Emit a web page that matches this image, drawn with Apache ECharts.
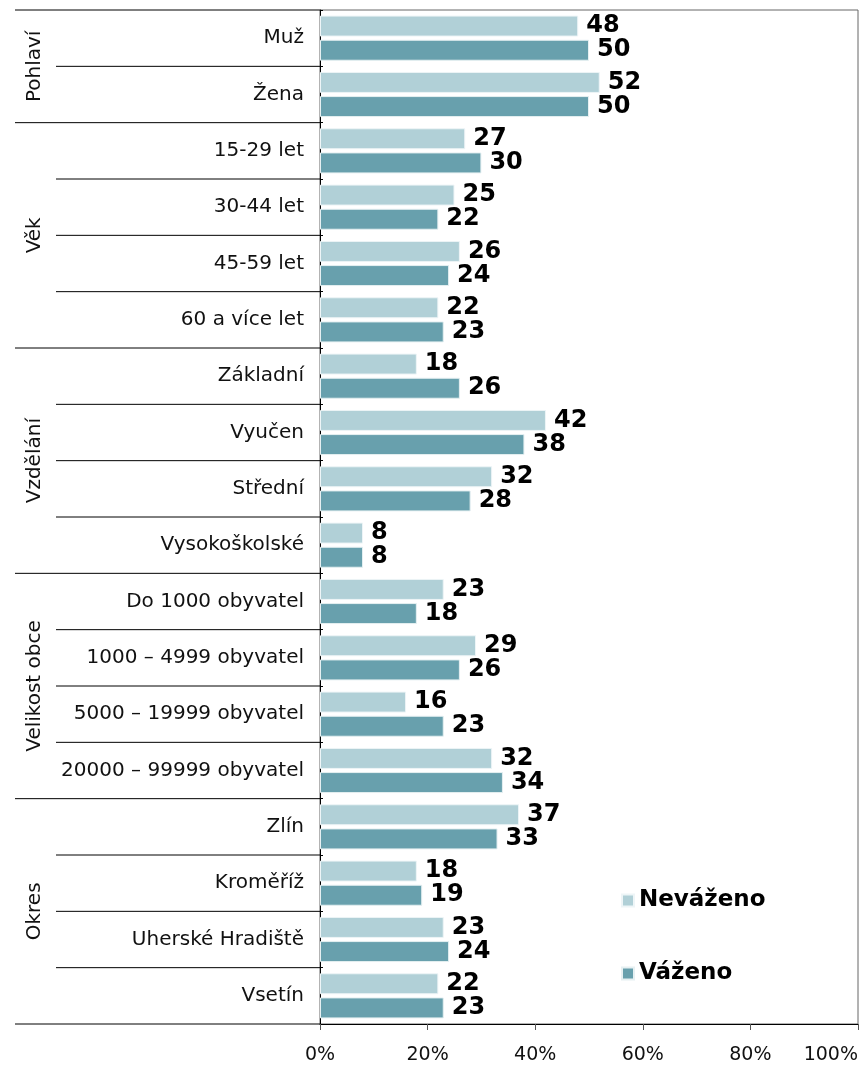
<!DOCTYPE html>
<html>
<head>
<meta charset="utf-8">
<script src="https://cdn.jsdelivr.net/npm/echarts@6/dist/echarts.min.js"></script>
<style>html,body{margin:0;padding:0;background:#fff;}#c{width:864px;height:1066px;}</style>
</head>
<body>
<div id="c"></div>
<script>
const categories = ['Muž','Žena','15-29 let','30-44 let','45-59 let','60 a více let','Základní','Vyučen','Střední','Vysokoškolské','Do 1000 obyvatel','1000 – 4999 obyvatel','5000 – 19999 obyvatel','20000 – 99999 obyvatel','Zlín','Kroměříž','Uherské Hradiště','Vsetín'];
const nevazeno = [48,52,27,25,26,22,18,42,32,8,23,29,16,32,37,18,23,22];
const vazeno = [50,50,30,22,24,23,26,38,28,8,18,26,23,34,33,19,24,23];
const groupNames = ['Pohlaví','Věk','Vzdělání','Velikost obce','Okres'];
const groupSizes = [2,4,4,4,4];
const xTicks = [0,20,40,60,80,100];

const FONT = 'DejaVu Sans, Verdana, sans-serif';
const chart = echarts.init(document.getElementById('c'));
const labelStyle = {show:true, position:'right', distance:8, color:'#000', fontFamily:FONT, fontWeight:'bold', fontSize:24};
chart.setOption({
  animation:false,
  grid:{left:320, right:6, top:10, bottom:42, show:true, borderColor:'#666', borderWidth:1, outerBoundsMode:'none', containLabel:false},
  legend:{
    orient:'vertical', left:616, top:884, itemGap:50, itemWidth:12, itemHeight:12, icon:'rect',
    textStyle:{fontFamily:FONT, fontWeight:'bold', fontSize:23, color:'#000'},
    data:['Neváženo','Váženo']
  },
  xAxis:{
    type:'value', min:xTicks[0], max:xTicks[xTicks.length-1], interval:20,
    axisLine:{show:true, lineStyle:{color:'#000'}},
    axisTick:{show:true, length:6, lineStyle:{color:'#555'}},
    splitLine:{show:false},
    axisLabel:{formatter:'{value}%', color:'#111', fontFamily:FONT, fontSize:19, margin:22, alignMaxLabel:'right'}
  },
  yAxis:{
    type:'category', inverse:true, data:categories,
    axisLine:{show:true, lineStyle:{color:'#000'}},
    axisTick:{show:true, inside:true, length:3, interval:0, lineStyle:{color:'#000'}},
    axisLabel:{color:'#111', fontFamily:FONT, fontSize:20, margin:16, interval:0}
  },
  series:[
    {name:'Neváženo', type:'bar', data:nevazeno, barWidth:21, barGap:'15%',
     itemStyle:{color:'#b1d0d7', borderColor:'#eef5f7', borderWidth:1}, label:labelStyle},
    {name:'Váženo', type:'bar', data:vazeno, barWidth:21, barGap:'15%',
     itemStyle:{color:'#68a0ad', borderColor:'#e6f0f2', borderWidth:1}, label:labelStyle}
  ]
});

function addGroups(){
  const c0 = chart.convertToPixel({yAxisIndex:0}, 0);
  const c1 = chart.convertToPixel({yAxisIndex:0}, 1);
  const band = c1 - c0;
  const x0 = chart.convertToPixel({xAxisIndex:0}, 0);
  const graphics = [];
  let idx = 0;
  const bound = i => c0 + (i - 0.5) * band;
  graphics.push({type:'line', shape:{x1:15, y1:bound(0), x2:x0, y2:bound(0)}, style:{stroke:'#000', lineWidth:1}});
  groupSizes.forEach((n, g) => {
    const start = idx, end = idx + n;
    for (let k = start + 1; k < end; k++) {
      graphics.push({type:'line', shape:{x1:56, y1:bound(k), x2:x0, y2:bound(k)}, style:{stroke:'#000', lineWidth:1}});
    }
    graphics.push({type:'line', shape:{x1:15, y1:bound(end), x2:x0, y2:bound(end)}, style:{stroke:'#000', lineWidth:1}});
    const mid = (bound(start) + bound(end)) / 2;
    graphics.push({type:'text', x:35, y:mid, rotation:Math.PI/2,
      style:{text:groupNames[g], fontFamily:FONT, fontSize:20, fill:'#111', align:'center', verticalAlign:'middle'}});
    idx = end;
  });
  chart.setOption({graphic:graphics});
}
addGroups();
</script>
</body>
</html>
